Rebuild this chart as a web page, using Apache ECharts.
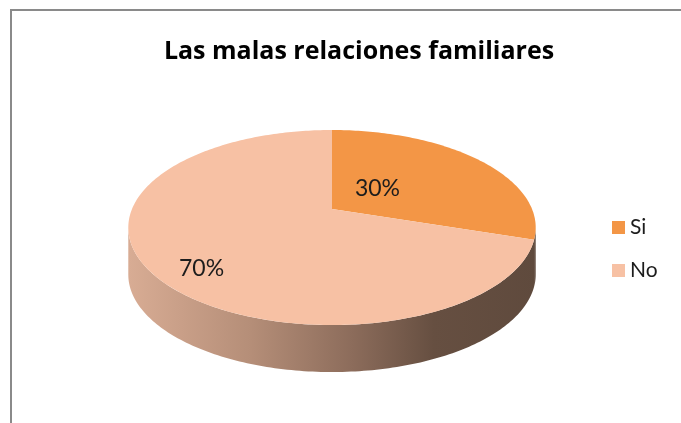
<!DOCTYPE html>
<html>
<head>
<meta charset="utf-8">
<script src="https://cdn.jsdelivr.net/npm/echarts@6/dist/echarts.min.js"></script>
<style>
  html, body { margin: 0; padding: 0; background: #fff; }
  #chart { width: 681px; height: 423px; }
</style>
</head>
<body>
<div id="chart"></div>
<script>
const categories = ['Si', 'No'];
const values = [30, 70];
const sliceColors = ['#F39646', '#F7C1A4'];

const total = values.reduce((a, b) => a + b, 0);
const starts = values.map((v, i) => values.slice(0, i).reduce((a, b) => a + b, 0));

// fake 3d pie: disk projected with a little perspective
const cx = 332, cy = 209, RX = 200, RY = 94, K = 0.19, DEPTH = 47;
const labelRadius = [0.33, 0.81];
const labelShift = -8;

function proj(deg, r) {
    const p = deg * Math.PI / 180;
    const X = r * Math.sin(p);
    const Z = -r * Math.cos(p);
    const d = 1 - K * Z;
    return [cx + RX * X / d, cy + RY * Z / d];
}

function arc(a, b, dy) {
    const pts = [];
    const n = Math.max(2, Math.ceil(Math.abs(b - a)));
    for (let i = 0; i <= n; i++) {
        const p = proj(a + (b - a) * i / n, 1);
        pts.push([p[0], p[1] + (dy || 0)]);
    }
    return pts;
}

const visFrom = Math.acos(-K) * 180 / Math.PI;
const visTo = 360 - visFrom;
const edgeLeft = cx - RX / Math.sqrt(1 - K * K);
const edgeRight = cx + RX / Math.sqrt(1 - K * K);

const sideFill = {
    type: 'linear', x: edgeLeft, y: 0, x2: edgeRight, y2: 0, global: true,
    colorStops: [
        {offset: 0, color: '#D8AC94'},
        {offset: 0.3, color: '#B58E78'},
        {offset: 0.55, color: '#8C6C5B'},
        {offset: 0.75, color: '#664F41'},
        {offset: 1, color: '#5F4A3D'}
    ]
};

const chart = echarts.init(document.getElementById('chart'));

const sideSeries = {
    type: 'custom',
    name: 'side',
    coordinateSystem: 'none',
    silent: true,
    z: 1,
    data: values,
    renderItem: (params, api) => {
        const i = params.dataIndex;
        const a = starts[i] / total * 360;
        const b = (starts[i] + api.value(0)) / total * 360;
        const from = Math.max(a, visFrom), to = Math.min(b, visTo);
        if (to <= from) return;
        const top = arc(from, to, 0);
        const bottom = arc(to, from, DEPTH);
        return {
            type: 'polygon',
            shape: {points: top.concat(bottom)},
            style: {fill: sideFill, stroke: null}
        };
    }
};

const topSeries = categories.map((name, i) => ({
    type: 'custom',
    name: name,
    coordinateSystem: 'none',
    z: 2,
    itemStyle: {color: sliceColors[i]},
    data: [values[i]],
    renderItem: (params, api) => {
        const v = api.value(0);
        const a = starts[i] / total * 360;
        const b = (starts[i] + v) / total * 360;
        const lp = proj((a + b) / 2 + labelShift, labelRadius[i]);
        return {
            type: 'group',
            children: [{
                type: 'polygon',
                shape: {points: [proj(0, 0)].concat(arc(a, b, 0))},
                style: {fill: sliceColors[i], stroke: null}
            }, {
                type: 'text',
                x: lp[0], y: lp[1],
                style: {
                    text: Math.round(v / total * 100) + '%',
                    fontSize: 23,
                    fontFamily: 'Lato, "Liberation Sans", sans-serif',
                    fill: '#1c1c1c',
                    align: 'center',
                    verticalAlign: 'middle'
                }
            }]
        };
    }
}));

chart.setOption({
    animation: false,
    color: sliceColors,
    title: {
        text: 'Las malas relaciones familiares',
        left: 354,
        textAlign: 'center',
        top: 34,
        textStyle: {
            fontFamily: '"Open Sans", Lato, sans-serif',
            fontWeight: 'bold',
            fontSize: 25,
            color: '#000'
        }
    },
    legend: {
        data: categories,
        orient: 'vertical',
        left: 607,
        top: 212,
        itemGap: 22,
        itemWidth: 13,
        itemHeight: 13,
        icon: 'rect',
        textStyle: {
            fontFamily: 'Lato, "Liberation Sans", sans-serif',
            fontSize: 21,
            color: '#1c1c1c'
        }
    },
    graphic: [{
        type: 'rect',
        shape: {x: 11, y: 10, width: 720, height: 460},
        style: {fill: null, stroke: '#8a8a8a', lineWidth: 2},
        silent: true
    }],
    series: [sideSeries].concat(topSeries)
});
</script>
</body>
</html>
